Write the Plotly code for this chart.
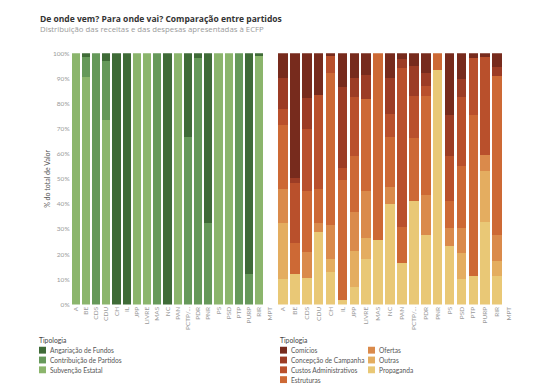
import plotly.graph_objects as go

# page body has an 8px margin; shrink the figure so it fits the 550x390 window
OFF = 8
W, H = 550 - OFF, 390 - OFF

# ---------------- data ----------------
parties = ["A", "BE", "CDS", "CDU", "CH", "IL", "JPP", "LIVRE", "MAS", "NC", "PAN",
           "PCTP/MRPP", "PDR", "PNR", "PS", "PSD", "PTP", "PURP", "RIR", "MPT"]
tick_labels = ["A", "BE", "CDS", "CDU", "CH", "IL", "JPP", "LIVRE", "MAS", "NC", "PAN",
               "PCTP/...", "PDR", "PNR", "PS", "PSD", "PTP", "PURP", "RIR", "MPT"]

# Receitas (% of total) — MPT has no data
rec_subvencao =    [100, 90.5, 0, 73.5, 0, 0, 100, 100, 0, 0, 100, 0, 0, 0, 100, 100, 0, 0, 99, None]
rec_contribuicao = [0, 8.0, 100, 23.5, 0, 0, 0, 0, 100, 0, 0, 66.5, 98.3, 32.3, 0, 0, 100, 12, 0, None]
rec_angariacao =   [0, 1.5, 0, 3.0, 100, 100, 0, 0, 0, 100, 0, 33.5, 1.7, 67.7, 0, 0, 0, 88, 1, None]

# Despesas (% of total)
dep_propaganda =  [10.2, 12.0, 10.5, 29.0, 13.0, 2.0, 6.9, 18.0, 25.8, 40.1, 16.7, 41.4, 27.7, 93.5, 23.2, 10.2, 11.5, 32.9, 11.5, None]
dep_outras =      [22.1, 0, 0, 0, 5.0, 0, 14.3, 8.4, 0, 0, 0, 0, 0, 0, 0, 10.4, 0, 20.2, 5.8, None]
dep_ofertas =     [13.7, 0, 10.5, 3.3, 13.5, 0, 15.6, 18.9, 0, 6.5, 0, 0, 15.7, 0, 7.1, 9.7, 0, 6.5, 10.4, None]
dep_estruturas =  [25.4, 12.5, 24.0, 13.7, 60.5, 47.5, 22.2, 36.5, 74.2, 20.2, 14.3, 24.7, 39.7, 6.5, 11.1, 24.7, 63.8, 0, 63.2, None]
dep_custos =      [6.4, 24.0, 25.0, 37.3, 7.0, 5.0, 23.4, 0, 0, 9.1, 63.1, 17.0, 3.9, 0, 17.6, 27.4, 22.7, 38.9, 0, None]
dep_concepcao =   [12.4, 2.0, 12.0, 0, 0, 32.0, 7.8, 9.5, 0, 14.3, 3.6, 11.7, 5.2, 0, 16.5, 7.2, 0, 0, 3.6, None]
dep_comicios =    [9.8, 49.5, 18.0, 16.7, 1.0, 13.5, 9.8, 8.7, 0, 9.8, 2.3, 5.2, 7.8, 0, 24.5, 10.4, 2.0, 1.5, 5.5, None]

rec_series = [  # bottom -> top
    ("Subvenção Estatal", rec_subvencao, "#8bb56c"),
    ("Contribuição de Partidos", rec_contribuicao, "#66995a"),
    ("Angariação de Fundos", rec_angariacao, "#3f6b37"),
]
dep_series = [  # bottom -> top
    ("Propaganda", dep_propaganda, "#e9c876"),
    ("Outras", dep_outras, "#e4ad60"),
    ("Ofertas", dep_ofertas, "#da8a4b"),
    ("Estruturas", dep_estruturas, "#cd6935"),
    ("Custos Administrativos", dep_custos, "#b9502c"),
    ("Concepção de Campanha", dep_concepcao, "#9c3c25"),
    ("Comícios", dep_comicios, "#772b1d"),
]

FONT = "Open Sans"
SMALL = "Lato"
fig = go.Figure()

for name, vals, color in rec_series:
    fig.add_trace(go.Bar(x=parties, y=vals, name=name, marker=dict(color=color, line=dict(width=0)),
                         xaxis="x", yaxis="y", showlegend=False))
for name, vals, color in dep_series:
    fig.add_trace(go.Bar(x=parties, y=vals, name=name, marker=dict(color=color, line=dict(width=0)),
                         xaxis="x2", yaxis="y2", showlegend=False))

def px_x(v):
    return (v - OFF) / W

def px_y(v):
    return 1 - (v - OFF) / H

ydom = [px_y(306), px_y(50)]
xaxis_common = dict(type="category", categoryorder="array", categoryarray=parties,
                    tickmode="array", tickvals=parties, ticktext=tick_labels,
                    range=[-0.5, len(parties) - 0.5], showgrid=False, zeroline=False,
                    showline=False, ticks="", tickangle=-90,
                    tickfont=dict(family=SMALL, size=6.5, color="#9a9a9a"))

fig.update_layout(
    width=W, height=H, autosize=False,
    margin=dict(l=0, r=0, t=0, b=0),
    paper_bgcolor="white", plot_bgcolor="white",
    barmode="stack", bargap=0.2,
    font=dict(family=FONT, color="#555"),
    xaxis=dict(domain=[px_x(70.6), px_x(274.6)], anchor="y", **xaxis_common),
    xaxis2=dict(domain=[px_x(277), px_x(515)], anchor="y2", **xaxis_common),
    yaxis=dict(domain=ydom, range=[0, 100], dtick=10, ticksuffix="%", showgrid=False,
               zeroline=False, showline=False, ticks="",
               tickfont=dict(family=SMALL, size=6.5, color="#9a9a9a"),
               title=dict(text="% do total de Valor", standoff=1,
                          font=dict(family=SMALL, size=7, color="#555"))),
    yaxis2=dict(domain=ydom, range=[0, 100], anchor="x2", showgrid=False, zeroline=False,
                showline=False, showticklabels=False, ticks=""),
)

annotations = [
    dict(text="<b>De onde vem? Para onde vai? Comparação entre partidos</b>",
         x=px_x(38), y=px_y(15), xanchor="left", yanchor="middle",
         font=dict(family=FONT, size=8.5, color="#333")),
    dict(text="Distribuição das receitas e das despesas apresentadas à ECFP",
         x=px_x(38), y=px_y(25), xanchor="left", yanchor="middle",
         font=dict(family=FONT, size=7.8, color="#9a9a9a")),
]
shapes = []

def add_legend(entries, x0, y0, col_break, col_dx):
    annotations.append(dict(text="Tipologia", x=px_x(x0 - 2), y=px_y(y0 - 10),
                            xanchor="left", yanchor="middle",
                            font=dict(family=SMALL, size=6.8, color="#444")))
    for i, (name, color) in enumerate(entries):
        col, row = divmod(i, col_break)
        sx = x0 + col * col_dx
        sy = y0 + row * 10
        shapes.append(dict(type="rect", xref="paper", yref="paper",
                           x0=px_x(sx), x1=px_x(sx + 7), y0=px_y(sy + 3.5), y1=px_y(sy - 3.5),
                           fillcolor=color, line=dict(width=0)))
        annotations.append(dict(text=name, x=px_x(sx + 8.5), y=px_y(sy), xanchor="left",
                                yanchor="middle",
                                font=dict(family=SMALL, size=6.6, color="#555")))

add_legend([(n, c) for n, _, c in reversed(rec_series)], 39, 352.5, 3, 90)
add_legend([(n, c) for n, _, c in reversed(dep_series)], 280, 352.5, 4, 88)

for a in annotations:
    a.update(xref="paper", yref="paper", showarrow=False)
fig.update_layout(annotations=annotations, shapes=shapes)

fig.write_html("out.html")
